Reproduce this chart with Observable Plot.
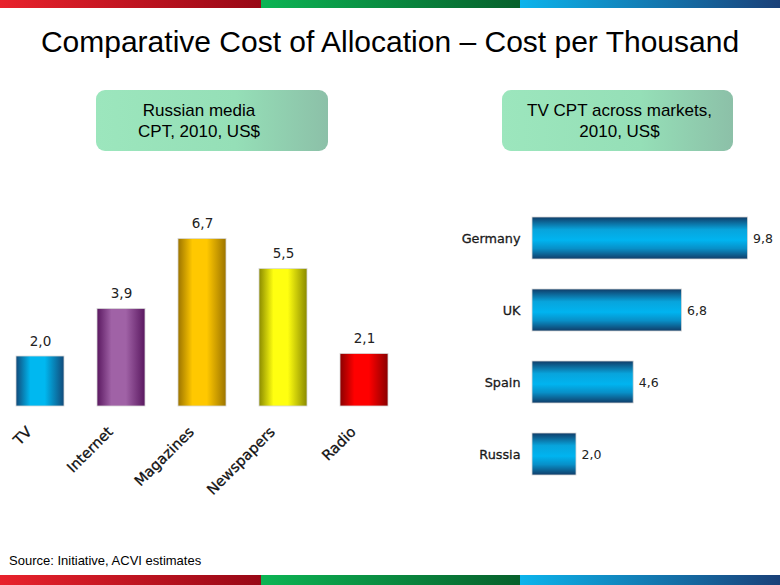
<!DOCTYPE html>
<html>
<head>
<meta charset="utf-8">
<script src="https://cdn.jsdelivr.net/npm/d3@7"></script>
<script src="https://cdn.jsdelivr.net/npm/@observablehq/plot@0.6"></script>
<style>
  html, body { margin: 0; padding: 0; background: #fff; }
  #page { position: relative; width: 780px; height: 585px; overflow: hidden; background: #fff; font-family: "Liberation Sans", Arial, sans-serif; }
  .stripe { position: absolute; left: 0; width: 780px; display: flex; }
  .stripe div { height: 100%; }
  .s-red { width: 261px; background: linear-gradient(to right, #e8222c, #980816); }
  .s-green { width: 259px; background: linear-gradient(to right, #0cb454, #07602c); }
  .s-blue { width: 260px; background: linear-gradient(to right, #0cb4ec, #1a4078); }
  #title { position: absolute; left: 0; width: 780px; top: 25px; text-align: center; font-size: 30px; line-height: 34px; color: #000; white-space: nowrap; }
  .box { position: absolute; top: 90px; height: 61px; border-radius: 9px; background: linear-gradient(to right, #9ce6bd 0%, #95dfb7 60%, #8cc0a8 100%); font-size: 17px; line-height: 21px; color: #000; text-align: center; display: flex; flex-direction: column; justify-content: center; box-sizing: border-box; }
  #box1 { left: 96px; width: 232px; padding-right: 26px; }
  #box2 { left: 502px; width: 231px; padding-left: 4px; }
  #chart1 { position: absolute; left: 0; top: 200px; }
  #chart2 { position: absolute; left: 440px; top: 200px; }
  #source { position: absolute; left: 9px; top: 553px; font-size: 13px; color: #000; }
</style>
</head>
<body>
<div id="page">
  <div class="stripe" style="top:0;height:8px"><div class="s-red"></div><div class="s-green"></div><div class="s-blue"></div></div>
  <div id="title">Comparative Cost of Allocation – Cost per Thousand</div>
  <div class="box" id="box1"><div>Russian media</div><div>CPT, 2010, US$</div></div>
  <div class="box" id="box2"><div>TV CPT across markets,</div><div>2010, US$</div></div>
  <div id="chart1"></div>
  <div id="chart2"></div>
  <div id="source">Source: Initiative, ACVI estimates</div>
  <div class="stripe" style="top:575px;height:10px"><div class="s-red"></div><div class="s-green"></div><div class="s-blue"></div></div>
</div>
<script>
// ---- Data ----
const mediaCategories = ["TV", "Internet", "Magazines", "Newspapers", "Radio"];
const mediaCPT = [2.0, 3.9, 6.7, 5.5, 2.1];
const mediaEdgeColors = ["#114a7a", "#5a1860", "#9c7400", "#8a8a00", "#8a0000"];
const mediaMidColors = ["#00b8f0", "#a062a6", "#ffc800", "#ffff10", "#ff0000"];

const markets = ["Germany", "UK", "Spain", "Russia"];
const marketCPT = [9.8, 6.8, 4.6, 2.0];

const fmt = v => v.toFixed(1).replace(".", ",");
const labelFont = "'DejaVu Sans', Verdana, sans-serif";

const media = mediaCategories.map((c, i) => ({cat: c, value: mediaCPT[i], grad: `url(#mg${i})`}));
const mk = markets.map((m, i) => ({cat: m, value: marketCPT[i]}));

// ---- Left chart: Russian media ----
const p1 = Plot.plot({
  width: 400,
  height: 310,
  marginLeft: 15,
  marginRight: 12,
  marginTop: 6,
  marginBottom: 104,
  style: {fontFamily: labelFont, background: "transparent", overflow: "visible"},
  x: {domain: mediaCategories, paddingInner: 0.41, paddingOuter: 0, axis: null},
  y: {domain: [0, 8], axis: null},
  color: {type: "identity"},
  marks: [
    Plot.barY(media, {x: "cat", y: "value", fill: "grad", stroke: "#d8d8d8", strokeWidth: 0.8}),
    Plot.text(media, {x: "cat", y: "value", text: d => fmt(d.value), dy: -15, fontSize: 13.5, fill: "#222"}),
    Plot.text(media, {x: "cat", y: () => 0, text: "cat", rotate: -45, textAnchor: "end", dx: -11, dy: 23, fontSize: 14.5, fill: "#111", stroke: "#111", strokeWidth: 0.3})
  ]
});
{
  const defs = d3.select(p1).insert("defs", ":first-child");
  mediaCategories.forEach((c, i) => {
    const g = defs.append("linearGradient").attr("id", `mg${i}`).attr("x1", "0").attr("x2", "1").attr("y1", "0").attr("y2", "0");
    g.append("stop").attr("offset", "0").attr("stop-color", mediaEdgeColors[i]);
    g.append("stop").attr("offset", "0.3").attr("stop-color", mediaMidColors[i]);
    g.append("stop").attr("offset", "0.6").attr("stop-color", mediaMidColors[i]);
    g.append("stop").attr("offset", "1").attr("stop-color", mediaEdgeColors[i]);
  });
}
document.getElementById("chart1").appendChild(p1);

// ---- Right chart: TV CPT across markets ----
const p2 = Plot.plot({
  width: 340,
  height: 290,
  marginLeft: 92,
  marginRight: 6,
  marginTop: 16,
  marginBottom: 13,
  style: {fontFamily: labelFont, background: "transparent", overflow: "visible"},
  x: {domain: [0, 11], axis: null},
  y: {domain: markets, paddingInner: 0.415, paddingOuter: 0, axis: null},
  marks: [
    Plot.barX(mk, {y: "cat", x: "value", fill: "url(#tvg)", stroke: "#d8d8d8", strokeWidth: 0.8}),
    Plot.text(mk, {y: "cat", x: "value", text: d => fmt(d.value), textAnchor: "start", dx: 5, fontSize: 12.5, fill: "#222"}),
    Plot.text(mk, {y: "cat", x: () => 0, text: "cat", textAnchor: "end", dx: -12, fontSize: 12.8, fill: "#1a1a1a", stroke: "#1a1a1a", strokeWidth: 0.3})
  ]
});
{
  const defs = d3.select(p2).insert("defs", ":first-child");
  const g = defs.append("linearGradient").attr("id", "tvg").attr("x1", "0").attr("x2", "0").attr("y1", "0").attr("y2", "1");
  g.append("stop").attr("offset", "0").attr("stop-color", "#103c68");
  g.append("stop").attr("offset", "0.3").attr("stop-color", "#08a4dc");
  g.append("stop").attr("offset", "0.55").attr("stop-color", "#00b4f0");
  g.append("stop").attr("offset", "0.75").attr("stop-color", "#0890c8");
  g.append("stop").attr("offset", "1").attr("stop-color", "#103c68");
}
document.getElementById("chart2").appendChild(p2);
</script>
</body>
</html>
